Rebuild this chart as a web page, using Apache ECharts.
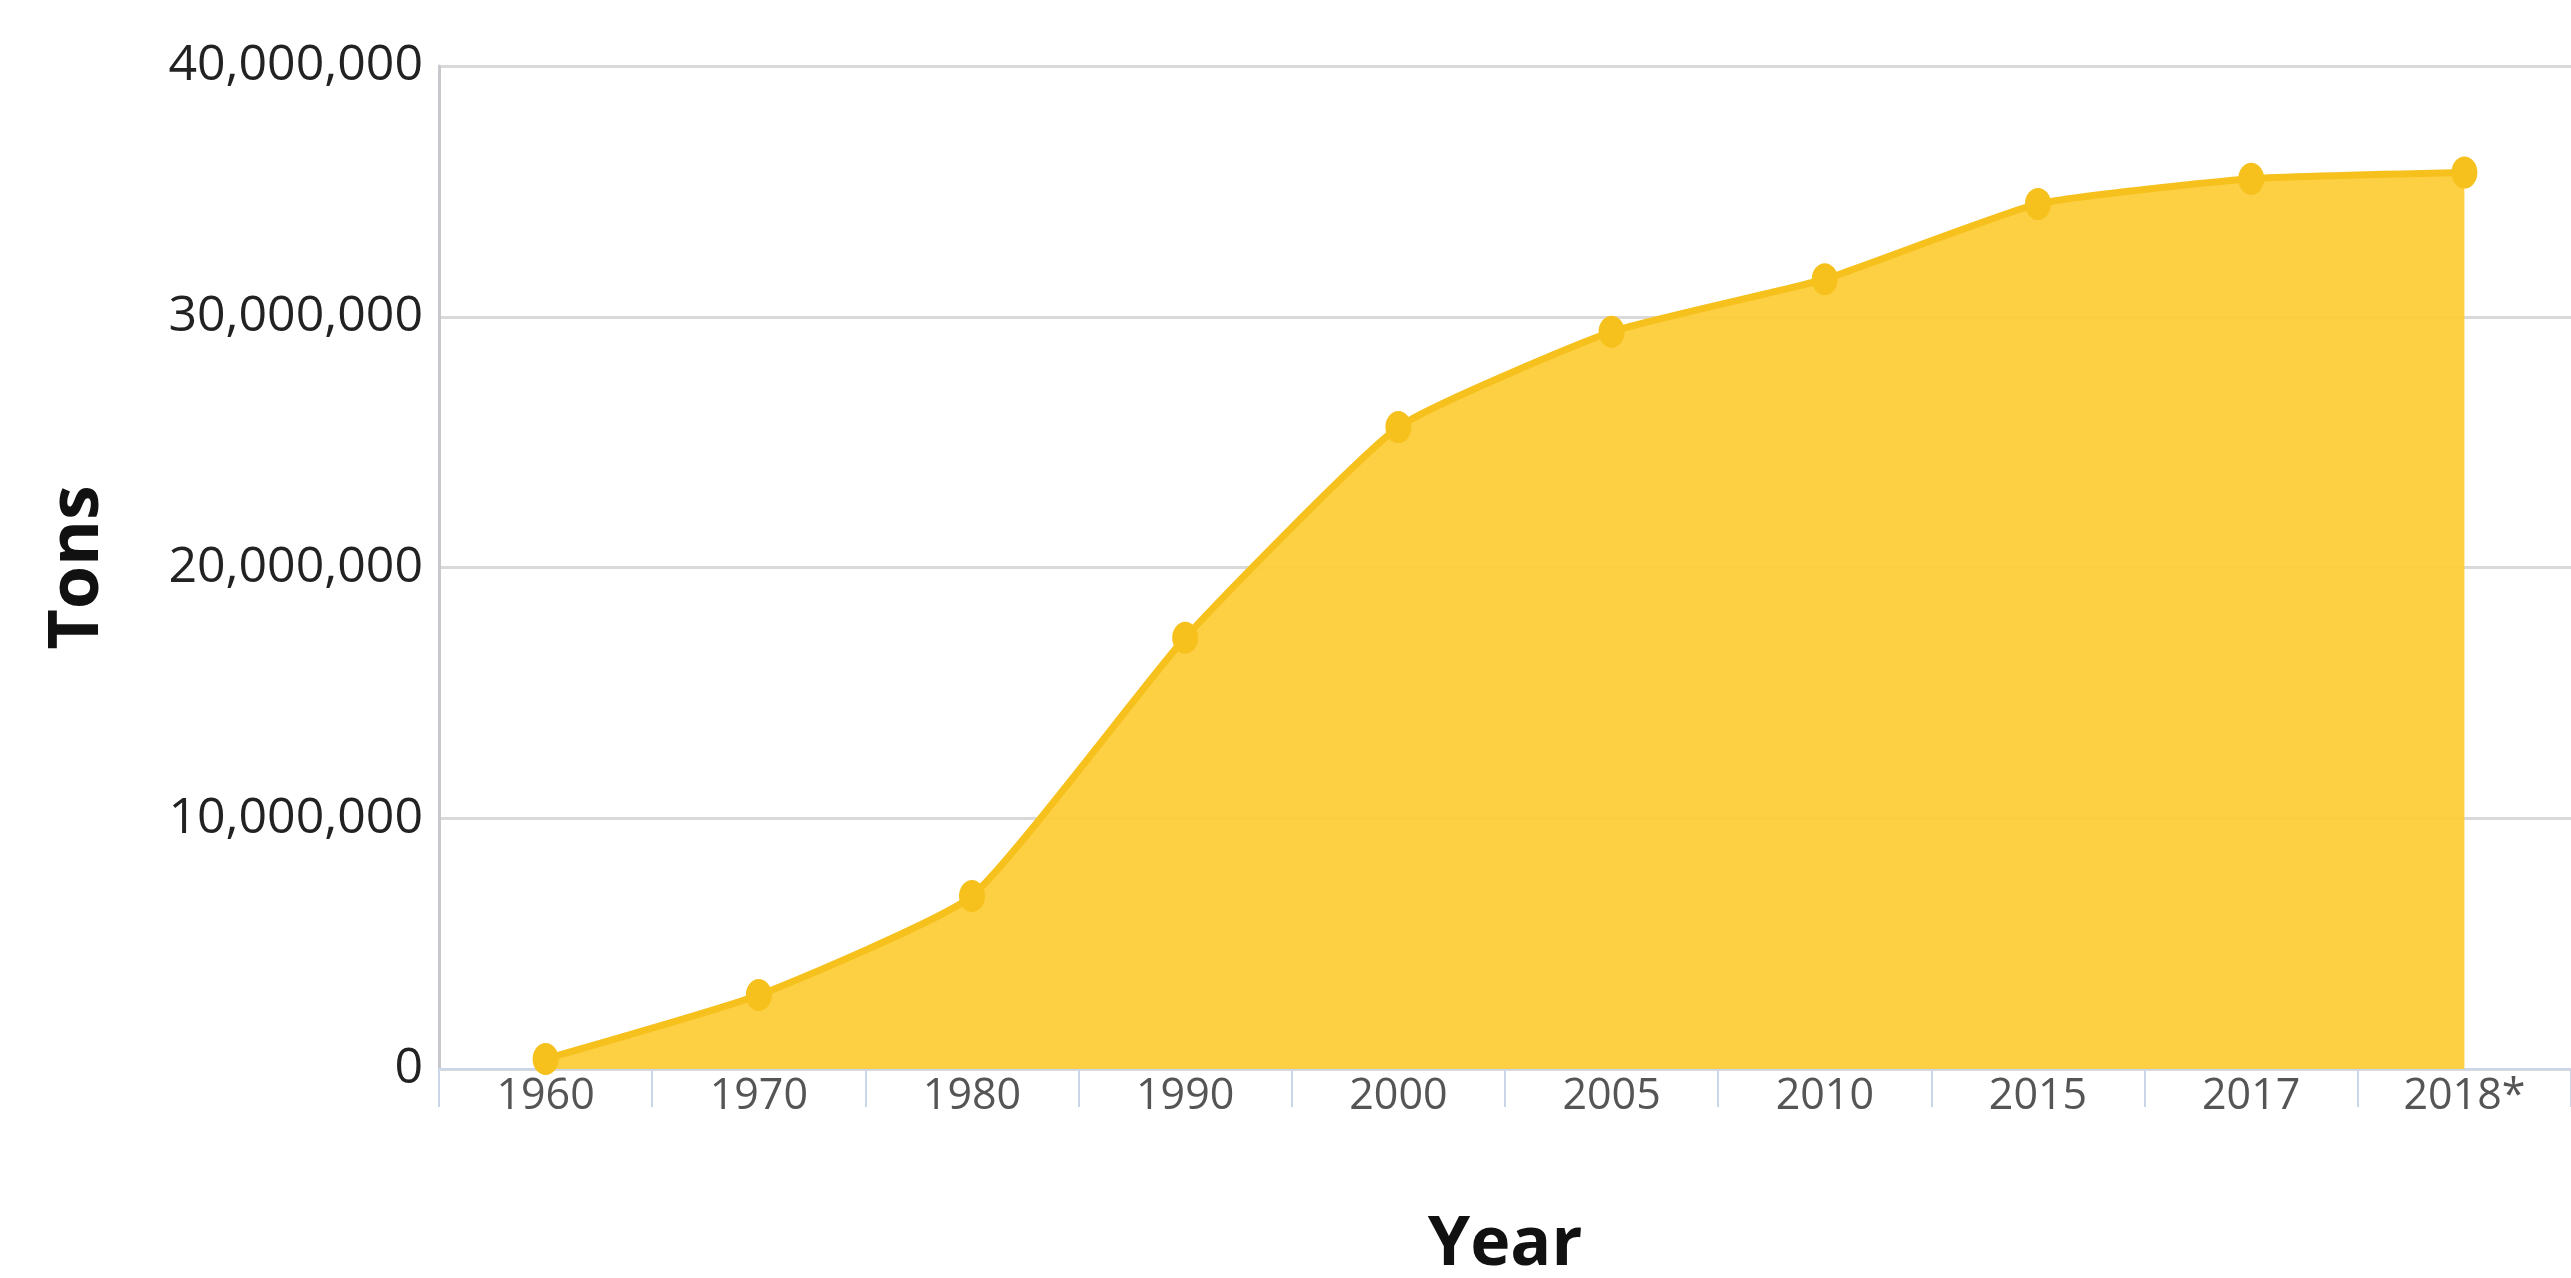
<!DOCTYPE html>
<html>
<head>
<meta charset="utf-8">
<title>Tons by Year</title>
<script src="https://cdn.jsdelivr.net/npm/echarts@6/dist/echarts.min.js"></script>
<style>
  html, body { margin: 0; padding: 0; background: #fff; }
  #chart { width: 2571px; height: 1278px; }
</style>
</head>
<body>
<div id="chart"></div>
<script>
// categories and values
const years = ['1960', '1970', '1980', '1990', '2000', '2005', '2010', '2015', '2017', '2018*']
const tons = [400000, 2950000, 6900000, 17200000, 25600000, 29400000, 31500000, 34500000, 35500000, 35750000]
const yTicks = [0, 10000000, 20000000, 30000000, 40000000]

const chart = echarts.init(document.getElementById('chart'))

const option = {
  animation: false,
  grid: {
    left: 439,
    right: 0,
    top: 66,
    bottom: 209,
    containLabel: false,
    outerBoundsMode: 'none',
  },
  xAxis: {
    type: 'category',
    data: years,
    boundaryGap: true,
    name: 'Year',
    nameLocation: 'middle',
    nameGap: 143,
    nameTextStyle: {
      fontFamily: 'Open Sans',
      fontWeight: 'bold',
      fontSize: 68,
      color: '#111',
    },
    axisLine: { lineStyle: { color: '#ccd6eb', width: 2 } },
    axisTick: {
      show: true,
      length: 38,
      lineStyle: { color: '#ccd6eb', width: 2 },
    },
    axisLabel: {
      fontFamily: 'Open Sans',
      fontSize: 43,
      color: '#555',
      margin: 6,
    },
  },
  yAxis: {
    type: 'value',
    min: yTicks[0],
    max: yTicks[yTicks.length - 1],
    interval: 10000000,
    name: 'Tons',
    nameLocation: 'middle',
    nameGap: 326,
    nameRotate: 90,
    nameTextStyle: {
      fontFamily: 'Open Sans',
      fontWeight: 'bold',
      fontSize: 70,
      color: '#111',
    },
    axisLine: { show: true, lineStyle: { color: '#c6c8cc', width: 3 } },
    axisTick: { show: false },
    splitLine: { lineStyle: { color: '#d9d9d9', width: 3 } },
    axisLabel: {
      fontFamily: 'Open Sans',
      fontSize: 50,
      color: '#222',
      margin: 16,
      formatter: (v) => v.toLocaleString('en-US'),
    },
  },
  series: [
    {
      name: 'Tons',
      type: 'line',
      data: tons,
      smooth: 0.15,
      symbol: 'circle',
      symbolSize: [26, 32],
      itemStyle: { color: '#f6c11c' },
      lineStyle: { color: '#f6c11c', width: 7 },
      areaStyle: { color: '#fdcd3a', opacity: 0.95 },
    },
  ],
}

chart.setOption(option)
</script>
</body>
</html>
